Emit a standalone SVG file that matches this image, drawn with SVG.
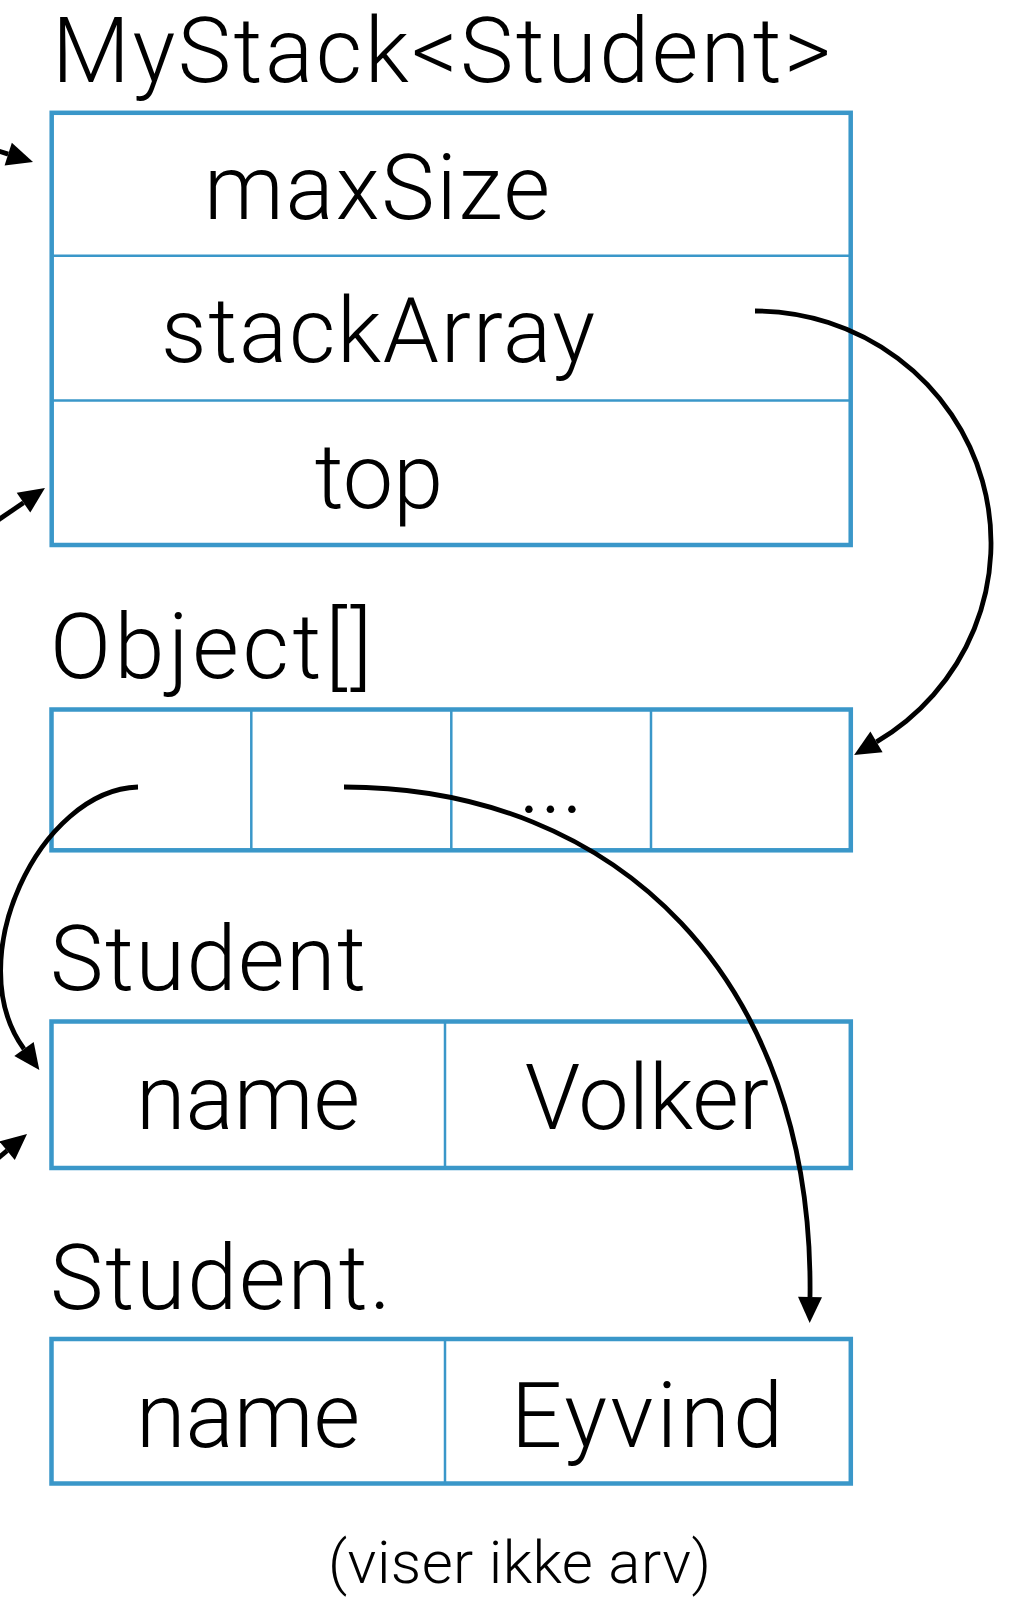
<svg xmlns="http://www.w3.org/2000/svg" width="1011" height="1606" viewBox="0 0 1011 1606">
  <defs>
    <style>
      .frame { fill: none; stroke: #3a97c9; stroke-width: 4.5; }
      .sep { stroke: #3a97c9; stroke-width: 2.5; }
      .lbl { font-family: Roboto, "Liberation Sans", Arial, sans-serif; font-weight: 300; font-size: 90px; fill: #000; }
      .mid { text-anchor: middle; }
      .note { font-size: 60px; }
      .link { fill: none; stroke: #000; stroke-width: 4.8; }
    </style>
    <marker id="head" markerUnits="userSpaceOnUse" viewBox="0 -13 27 26" markerWidth="27" markerHeight="26" refX="0" refY="0" orient="auto" overflow="visible">
      <path d="M0,-12 L26,0 L0,12 z" fill="#000"/>
    </marker>
  </defs>

  <rect width="1011" height="1606" fill="#fff"/>

  <!-- MyStack<Student> object -->
  <g id="mystack">
    <text class="lbl" x="52" y="82" textLength="779">MyStack&lt;Student&gt;</text>
    <rect class="frame" x="51.7" y="112.8" width="799" height="432.2"/>
    <line class="sep" x1="51.7" y1="255.7" x2="850.7" y2="255.7"/>
    <line class="sep" x1="51.7" y1="400.5" x2="850.7" y2="400.5"/>
    <text class="lbl mid" x="377" y="219" textLength="346">maxSize</text>
    <text class="lbl mid" x="378" y="362" textLength="434">stackArray</text>
    <text class="lbl mid" x="379" y="508">top</text>
  </g>

  <!-- Object[] array -->
  <g id="objarray">
    <text class="lbl" x="50" y="678" textLength="322">Object[]</text>
    <rect class="frame" x="51.5" y="709.5" width="799.3" height="140.8"/>
    <line class="sep" x1="251.3" y1="709.5" x2="251.3" y2="850.3"/>
    <line class="sep" x1="451.3" y1="709.5" x2="451.3" y2="850.3"/>
    <line class="sep" x1="651" y1="709.5" x2="651" y2="850.3"/>
    <text class="lbl mid" x="551" y="813">...</text>
  </g>

  <!-- Student: Volker -->
  <g id="student-volker">
    <text class="lbl" x="50" y="990" textLength="316">Student</text>
    <rect class="frame" x="51.5" y="1021.5" width="799.3" height="146.5"/>
    <line class="sep" x1="445" y1="1021.5" x2="445" y2="1168"/>
    <text class="lbl mid" x="248" y="1129">name</text>
    <text class="lbl mid" x="647" y="1129">Volker</text>
  </g>

  <!-- Student: Eyvind -->
  <g id="student-eyvind">
    <text class="lbl" x="50" y="1309" textLength="341">Student.</text>
    <rect class="frame" x="51.5" y="1339" width="799.3" height="144.5"/>
    <line class="sep" x1="445" y1="1339" x2="445" y2="1483.5"/>
    <text class="lbl mid" x="248" y="1447">name</text>
    <text class="lbl mid" x="647" y="1447" textLength="272">Eyvind</text>
  </g>

  <g id="caption">
    <text class="lbl note mid" x="519.5" y="1583" textLength="383">(viser ikke arv)</text>
  </g>

  <!-- references -->
  <g id="connectors">
    <path class="link" d="M-12,147.7 L8.2,154.1" marker-end="url(#head)"/>
    <path class="link" d="M-10,525.6 L23.5,502.7" marker-end="url(#head)"/>
    <path class="link" d="M-12,1166.7 L7.1,1150.7" marker-end="url(#head)"/>
    <path class="link" d="M755,311 A236,232 0 0 1 876.5,741.9" marker-end="url(#head)"/>
    <path class="link" d="M138,787 C40,790 -41,960 24,1049" marker-end="url(#head)"/>
    <path class="link" d="M344,787 C618,787 814,980 810,1297" marker-end="url(#head)"/>
  </g>
</svg>
